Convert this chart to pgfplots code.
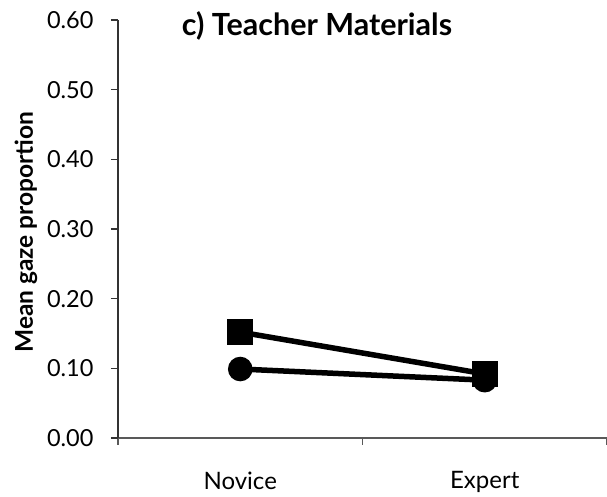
\documentclass[border=0pt]{standalone}
\usepackage{fontspec}
\setmainfont{Lato}
\usepackage{pgfplots}
\pgfplotsset{compat=1.18}
\begin{document}
\begin{tikzpicture}
\useasboundingbox (-118pt,-59pt) rectangle (489pt,438pt);
\begin{axis}[
  at={(0,0)}, anchor=south west,
  scale only axis,
  width=489pt, height=418pt,
  xmin=0, xmax=4, ymin=0, ymax=0.6,
  axis x line*=bottom, axis y line*=left,
  x axis line style={draw=black!65, line width=1.2pt},
  y axis line style={draw=black!80, line width=1.2pt},
  xtick={0,2,4}, xticklabels={},
  extra x ticks={1,3}, extra x tick labels={Novice,Expert},
  extra x tick style={major tick length=0pt, tick style={draw=none}},
  x tick style={draw=black!65, line width=1.2pt},
  xtick align=outside,
  xticklabel style={font=\fontsize{24}{28}\selectfont, yshift=-30pt},
  ytick={0,0.1,0.2,0.3,0.4,0.5,0.6},
  ytick align=outside,
  major tick length=7pt,
  y tick style={draw=black!80, line width=1.2pt},
  yticklabel style={font=\fontsize{23.5}{27}\selectfont, xshift=-14pt},
  /pgf/number format/assume math mode=true,
  yticklabel={\pgfmathprintnumber[fixed, fixed zerofill, precision=2]{\tick}},
  ylabel={Mean gaze proportion},
  every axis y label/.style={at={(rel axis cs:0,0.5)}, xshift=-92pt, yshift=-3pt, rotate=90, anchor=center, font=\fontsize{24.5}{28}\selectfont\bfseries},
  title={\bfseries c) Teacher Materials},
  title style={font=\fontsize{30.5}{34}\selectfont, at={(0.407,0.948)}, anchor=base},
  clip=false,
]
\addplot[black, line width=5.5pt, mark=square*, mark size=10pt, mark options={solid}] coordinates {(1,0.152) (3,0.092)};
\addplot[black, line width=5.5pt, mark=*, mark size=9.5pt, mark options={solid}] coordinates {(1,0.099) (3,0.083)};
\end{axis}
\end{tikzpicture}
\end{document}
